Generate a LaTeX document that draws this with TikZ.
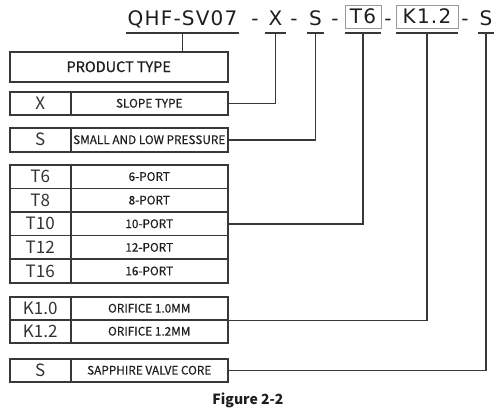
\documentclass[tikz,border=0pt]{standalone}
\usepackage{fontspec}
\newfontfamily\titlefont[LetterSpace=6]{DejaVu Sans}
\newfontfamily\cjk{Noto Sans CJK SC}
\newfontfamily\cjkm[FakeBold=0.4]{Noto Sans CJK SC}
\definecolor{lc}{HTML}{383838}
\definecolor{bc}{HTML}{9A9A9A}
\definecolor{tc}{HTML}{1E1E1E}
\definecolor{tl}{HTML}{333333}
\tikzset{
  cell/.style={draw=lc, line width=1.5pt, inner sep=0pt, text=tc},
  lcell/.style={cell, minimum width=61pt, text=tl, font=\cjk\fontsize{17}{17}\selectfont},
  rcell/.style={cell, minimum width=157pt, font=\cjkm\fontsize{11.8}{12}\selectfont},
  ttl/.style={font=\titlefont\fontsize{20}{20}\selectfont, text=tc, inner sep=0pt, anchor=base},
  tbox/.style={draw=bc, line width=1pt, minimum height=23pt, inner sep=1pt, text=tc,
    font=\titlefont\fontsize{20}{20}\selectfont},
  conn/.style={draw=lc, line width=1.5pt},
}
\begin{document}
\begin{tikzpicture}[x=1pt,y=-1pt]
\useasboundingbox[fill=white] (0,0) rectangle (504,413);
% title
\node[ttl] (tq) at (182.5,25) {QHF-SV07};
\node[ttl] (d1) at (255,25) {-};
\node[ttl] (tx) at (275.5,25) {X};
\node[ttl] (d2) at (294,25) {-};
\node[ttl] (ts) at (315.5,25) {S};
\node[ttl] (d3) at (335,25) {-};
\node[tbox, minimum width=36pt] (tt) at (363,16.5) {T6};
\node[ttl] (d4) at (388,25) {-};
\node[tbox, minimum width=62pt] (tk) at (427,16.5) {K1.2};
\node[ttl] (d5) at (465,25) {-};
\node[ttl] (ts2) at (486,25) {S};
\coordinate (u1) at (182.5,33);
\coordinate (u2) at (275.5,33);
\coordinate (u3) at (315.5,33);
\coordinate (u4) at (363,33);
\coordinate (u5) at (427,33);
\coordinate (u6) at (486,33);
\draw[conn] ([xshift=-56.5pt]u1) -- ([xshift=56.5pt]u1);
\draw[conn] ([xshift=-10.5pt]u2) -- ([xshift=10.5pt]u2);
\draw[conn] ([xshift=-8.5pt]u3) -- ([xshift=8.5pt]u3);
\draw[conn] ([xshift=-18pt]u4) -- ([xshift=18pt]u4);
\draw[conn] ([xshift=-31pt]u5) -- ([xshift=31pt]u5);
\draw[conn] ([xshift=-8pt]u6) -- ([xshift=8pt]u6);
% product type
\node[cell, minimum width=218pt, minimum height=30pt, anchor=north west,
  font=\cjkm\fontsize{14.5}{15}\selectfont] (prod) at (9,51) {PRODUCT TYPE};
% X
\node[lcell, minimum height=23pt, anchor=north west] (xl) at (9,91) {X};
\node[rcell, minimum height=23pt, anchor=north west] (xr) at (70,91) {SLOPE TYPE};
% S
\node[lcell, minimum height=24pt, anchor=north west] (sl) at (9,127) {S};
\node[rcell, minimum height=24pt, anchor=north west] (sr) at (70,127) {SMALL AND LOW PRESSURE};
% T
\node[lcell, minimum height=23.6pt, anchor=north west] (t6l) at (9,164) {T6};
\node[rcell, minimum height=23.6pt, anchor=north west] (t6r) at (70,164) {6-PORT};
\node[lcell, minimum height=23.6pt, anchor=north west] (t8l) at (9,187.6) {T8};
\node[rcell, minimum height=23.6pt, anchor=north west] (t8r) at (70,187.6) {8-PORT};
\node[lcell, minimum height=23.6pt, anchor=north west] (t10l) at (9,211.2) {T10};
\node[rcell, minimum height=23.6pt, anchor=north west] (t10r) at (70,211.2) {10-PORT};
\node[lcell, minimum height=23.6pt, anchor=north west] (t12l) at (9,234.8) {T12};
\node[rcell, minimum height=23.6pt, anchor=north west] (t12r) at (70,234.8) {12-PORT};
\node[lcell, minimum height=23.6pt, anchor=north west] (t16l) at (9,258.4) {T16};
\node[rcell, minimum height=23.6pt, anchor=north west] (t16r) at (70,258.4) {16-PORT};
% K
\node[lcell, minimum height=23pt, anchor=north west] (k10l) at (9,296) {K1.0};
\node[rcell, minimum height=23pt, anchor=north west] (k10r) at (70,296) {ORIFICE 1.0MM};
\node[lcell, minimum height=23pt, anchor=north west] (k12l) at (9,319) {K1.2};
\node[rcell, minimum height=23pt, anchor=north west] (k12r) at (70,319) {ORIFICE 1.2MM};
% Sapphire
\node[lcell, minimum height=23pt, anchor=north west] (sapl) at (9,358) {S};
\node[rcell, minimum height=23pt, anchor=north west] (sapr) at (70,358) {SAPPHIRE VALVE CORE};
% connectors
\draw[conn] (u1) -- (u1 |- prod.north);
\draw[conn] (xr.east) -| (u2);
\draw[conn] (sr.east) -| (u3);
\draw[conn] (t10r.east) -| (u4);
\draw[conn] (k10r.south east) -| (u5);
\draw[conn] (sapr.east) -| (u6);
% caption
\node[font=\cjk\bfseries\fontsize{14}{14}\selectfont, text=tc, anchor=base, inner sep=0pt] (fig) at (248,404) {Figure 2-2};
\end{tikzpicture}
\end{document}
